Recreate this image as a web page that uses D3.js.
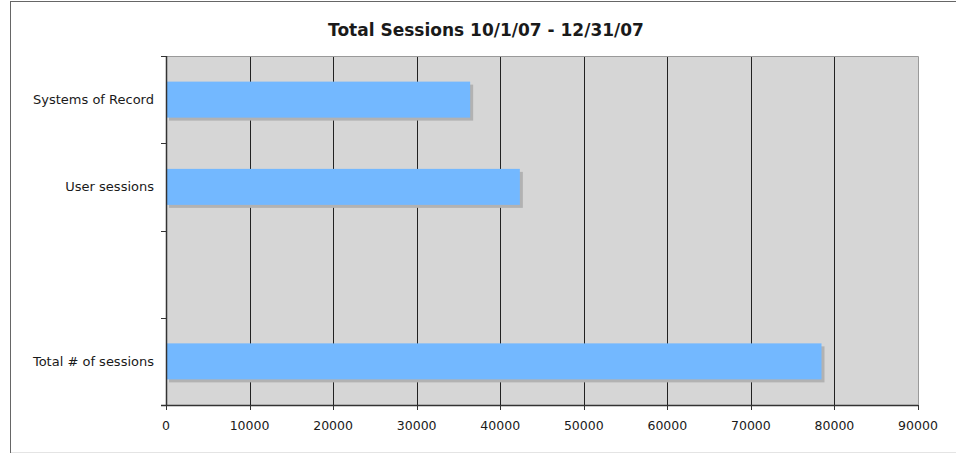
<!DOCTYPE html>
<html>
<head>
<meta charset="utf-8">
<script src="https://cdn.jsdelivr.net/npm/d3@7"></script>
<style>
  body { margin: 0; background: #fff; }
  svg text { font-family: "DejaVu Sans", Verdana, sans-serif; fill: #1a1a1a; }
</style>
</head>
<body>
<svg id="chart" width="956" height="454"></svg>
<script>
// categories top to bottom (third slot is empty in the original)
const categories = ['Systems of Record', 'User sessions', '', 'Total # of sessions'];
const sessions = [36400, 42350, null, 78450];
const xTicks = [0, 10000, 20000, 30000, 40000, 50000, 60000, 70000, 80000, 90000];
const title = 'Total Sessions 10/1/07 - 12/31/07';

const svg = d3.select('#chart');

// outer frame
svg.append('rect')
  .attr('x', 10.5).attr('y', 1.5)
  .attr('width', 960).attr('height', 451)
  .attr('fill', '#fff')
  .style('stroke', '#666');
svg.append('line')
  .attr('x1', 11).attr('x2', 956).attr('y1', 452.5).attr('y2', 452.5)
  .style('stroke', '#e4e4e4');

const plotL = 166, plotR = 918, plotT = 56, plotB = 405;

const x = d3.scaleLinear().domain([0, 90000]).range([plotL, plotR]);
const y = d3.scaleBand().domain(d3.range(categories.length)).range([plotT, plotB]);

// plot background
svg.append('rect')
  .attr('x', plotL).attr('y', plotT)
  .attr('width', plotR - plotL).attr('height', plotB - plotT)
  .attr('fill', '#d6d6d6');

// gridlines
svg.append('g')
  .selectAll('line')
  .data(xTicks.slice(1, -1))
  .enter()
  .append('line')
  .attr('x1', d => Math.round(x(d)) + 0.5)
  .attr('x2', d => Math.round(x(d)) + 0.5)
  .attr('y1', plotT).attr('y2', plotB)
  .style('stroke', '#222');

// top and right border of plot
svg.append('path')
  .attr('d', `M${plotL},${plotT + 0.5}H${plotR + 0.5}V${plotB}`)
  .attr('fill', 'none')
  .style('stroke', '#9a9a9a');

const barH = 36;
const rows = categories.map((c, i) => ({ name: c, value: sessions[i], i }))
  .filter(d => d.value != null);

// shadows
svg.append('g')
  .selectAll('rect')
  .data(rows)
  .enter()
  .append('rect')
  .attr('x', plotL + 3)
  .attr('y', d => y(d.i) + y.bandwidth() / 2 - barH / 2 + 3)
  .attr('width', d => x(d.value) - plotL)
  .attr('height', barH)
  .attr('fill', '#b2b2b2');

// bars
svg.append('g')
  .selectAll('rect')
  .data(rows)
  .enter()
  .append('rect')
  .attr('x', plotL)
  .attr('y', d => y(d.i) + y.bandwidth() / 2 - barH / 2)
  .attr('width', d => x(d.value) - plotL)
  .attr('height', barH)
  .attr('fill', '#73b8ff');

// y axis
svg.append('line')
  .attr('x1', plotL + 0.5).attr('x2', plotL + 0.5)
  .attr('y1', plotT).attr('y2', plotB)
  .style('stroke', '#333').style('stroke-width', 1.5);
svg.append('g')
  .selectAll('line')
  .data(d3.range(categories.length + 1))
  .enter()
  .append('line')
  .attr('x1', plotL - 5).attr('x2', plotL)
  .attr('y1', d => Math.round(plotT + d * y.step()) + 0.5)
  .attr('y2', d => Math.round(plotT + d * y.step()) + 0.5)
  .style('stroke', '#333');
svg.append('g')
  .selectAll('text')
  .data(categories)
  .enter()
  .append('text')
  .attr('x', plotL - 12)
  .attr('y', (d, i) => y(i) + y.bandwidth() / 2)
  .attr('dy', '.35em')
  .attr('text-anchor', 'end')
  .style('font-size', '13px')
  .text(d => d);

// x axis
svg.append('line')
  .attr('x1', plotL - 5).attr('x2', plotR)
  .attr('y1', plotB + 0.5).attr('y2', plotB + 0.5)
  .style('stroke', '#333').style('stroke-width', 1.5);
svg.append('g')
  .selectAll('line')
  .data(xTicks)
  .enter()
  .append('line')
  .attr('x1', d => Math.round(x(d)) + 0.5)
  .attr('x2', d => Math.round(x(d)) + 0.5)
  .attr('y1', plotB).attr('y2', plotB + 5)
  .style('stroke', '#333');
svg.append('g')
  .selectAll('text')
  .data(xTicks)
  .enter()
  .append('text')
  .attr('x', d => x(d))
  .attr('y', 430)
  .attr('text-anchor', 'middle')
  .style('font-size', '12.5px')
  .text(d => d);

// title
svg.append('text')
  .attr('x', 486).attr('y', 36)
  .attr('text-anchor', 'middle')
  .style('font-size', '17px')
  .style('font-weight', 'bold')
  .text(title);
</script>
</body>
</html>
